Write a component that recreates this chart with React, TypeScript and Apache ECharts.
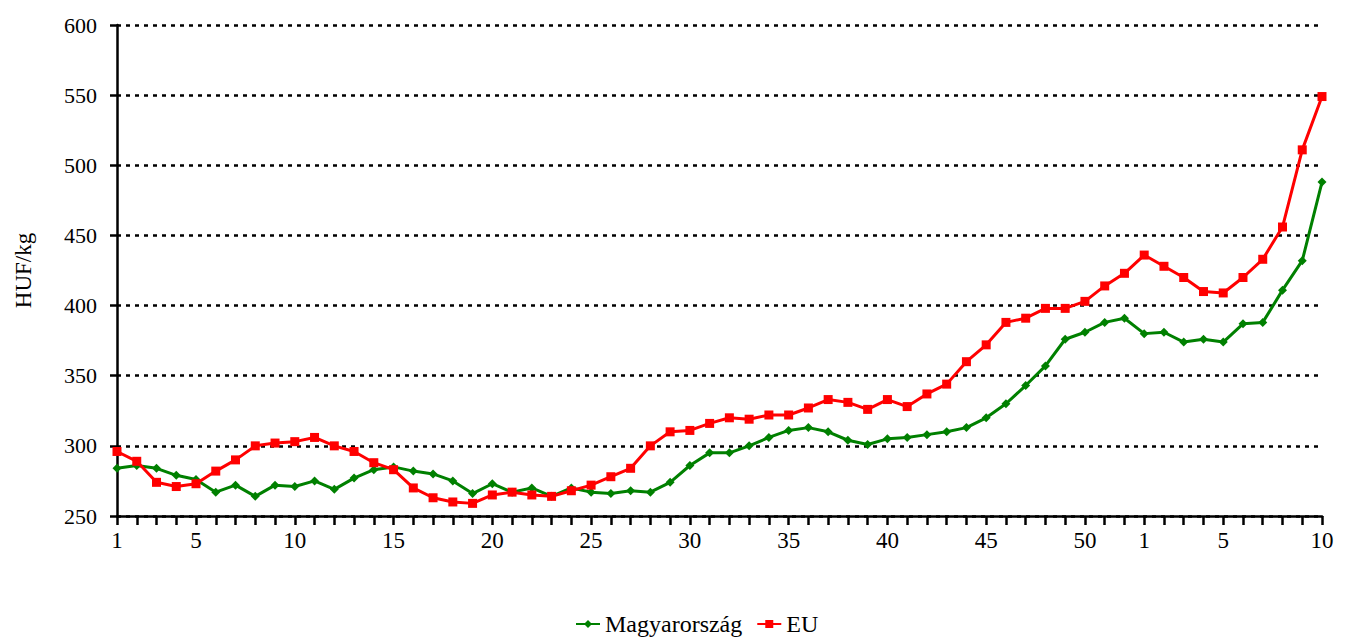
import React, { useEffect, useRef } from "react";
import * as echarts from "echarts";

const weeks: string[] = [
  ...Array.from({ length: 52 }, (_, i) => String(i + 1)),
  ...Array.from({ length: 10 }, (_, i) => String(i + 1)),
];

const magyarorszag: number[] = [
  284, 286, 284, 279, 276, 267, 272, 264, 272, 271,
  275, 269, 277, 283, 285, 282, 280, 275, 266, 273,
  267, 270, 264, 270, 267, 266, 268, 267, 274, 286,
  295, 295, 300, 306, 311, 313, 310, 304, 301, 305,
  306, 308, 310, 313, 320, 330, 343, 357, 376, 381,
  388, 391,
  380, 381, 374, 376, 374, 387, 388, 411, 432, 488,
];

const eu: number[] = [
  296, 289, 274, 271, 273, 282, 290, 300, 302, 303,
  306, 300, 296, 288, 283, 270, 263, 260, 259, 265,
  267, 265, 264, 268, 272, 278, 284, 300, 310, 311,
  316, 320, 319, 322, 322, 327, 333, 331, 326, 333,
  328, 337, 344, 360, 372, 388, 391, 398, 398, 403,
  414, 423,
  436, 428, 420, 410, 409, 420, 433, 456, 511, 549,
];

const shownLabelIdx = new Set<number>([0, 4, 9, 14, 19, 24, 29, 34, 39, 44, 49, 52, 56, 61]);

export default function App() {
  const ref = useRef<HTMLDivElement>(null);
  useEffect(() => {
    if (!ref.current) return;
    const chart = echarts.init(ref.current, undefined, { renderer: "svg" });
    const font = "'Liberation Serif', 'Times New Roman', Times, serif";
    chart.setOption({
      animation: false,
      backgroundColor: "#ffffff",
      textStyle: { fontFamily: font },
      grid: { left: 117, right: 27, top: 25, bottom: 125, containLabel: false },
      legend: {
        top: 607,
        left: 570,
        itemWidth: 24,
        itemHeight: 10,
        itemGap: 14,
        textStyle: { fontFamily: font, fontSize: 24, color: "#000" },
        data: ["Magyarország", "EU"],
      },
      xAxis: {
        type: "category",
        data: weeks,
        boundaryGap: false,
        axisLine: { lineStyle: { color: "#000", width: 2.5 } },
        axisTick: { show: true, interval: 0, length: 9, lineStyle: { color: "#000", width: 2.5 } },
        axisLabel: {
          interval: (idx: number) => shownLabelIdx.has(idx),
          color: "#000",
          fontFamily: font,
          fontSize: 23,
          margin: 13,
        },
        splitLine: { show: false },
      },
      yAxis: {
        type: "value",
        min: 250,
        max: 600,
        interval: 50,
        name: "HUF/kg",
        nameLocation: "middle",
        nameRotate: 90,
        nameGap: 82,
        nameTextStyle: { fontFamily: font, fontSize: 23, color: "#000" },
        axisLine: { show: true, lineStyle: { color: "#000", width: 2.5 } },
        axisTick: { show: true, length: 7, lineStyle: { color: "#000", width: 2.5 } },
        axisLabel: { color: "#000", fontFamily: font, fontSize: 22, margin: 20 },
        splitLine: {
          show: true,
          lineStyle: { color: "#000", width: 2.5, type: [4, 5] },
        },
      },
      series: [
        {
          name: "Magyarország",
          type: "line",
          data: magyarorszag,
          color: "#008000",
          lineStyle: { width: 3, color: "#008000" },
          symbol: "diamond",
          symbolSize: 9,
          itemStyle: { color: "#008000" },
          z: 2,
        },
        {
          name: "EU",
          type: "line",
          data: eu,
          color: "#ff0000",
          lineStyle: { width: 3, color: "#ff0000" },
          symbol: "rect",
          symbolSize: 9,
          itemStyle: { color: "#ff0000" },
          z: 3,
        },
      ],
    });
    return () => chart.dispose();
  }, []);
  return (
    <div
      ref={ref}
      style={{ position: "absolute", left: 0, top: 0, width: 1349, height: 641 }}
    />
  );
}
